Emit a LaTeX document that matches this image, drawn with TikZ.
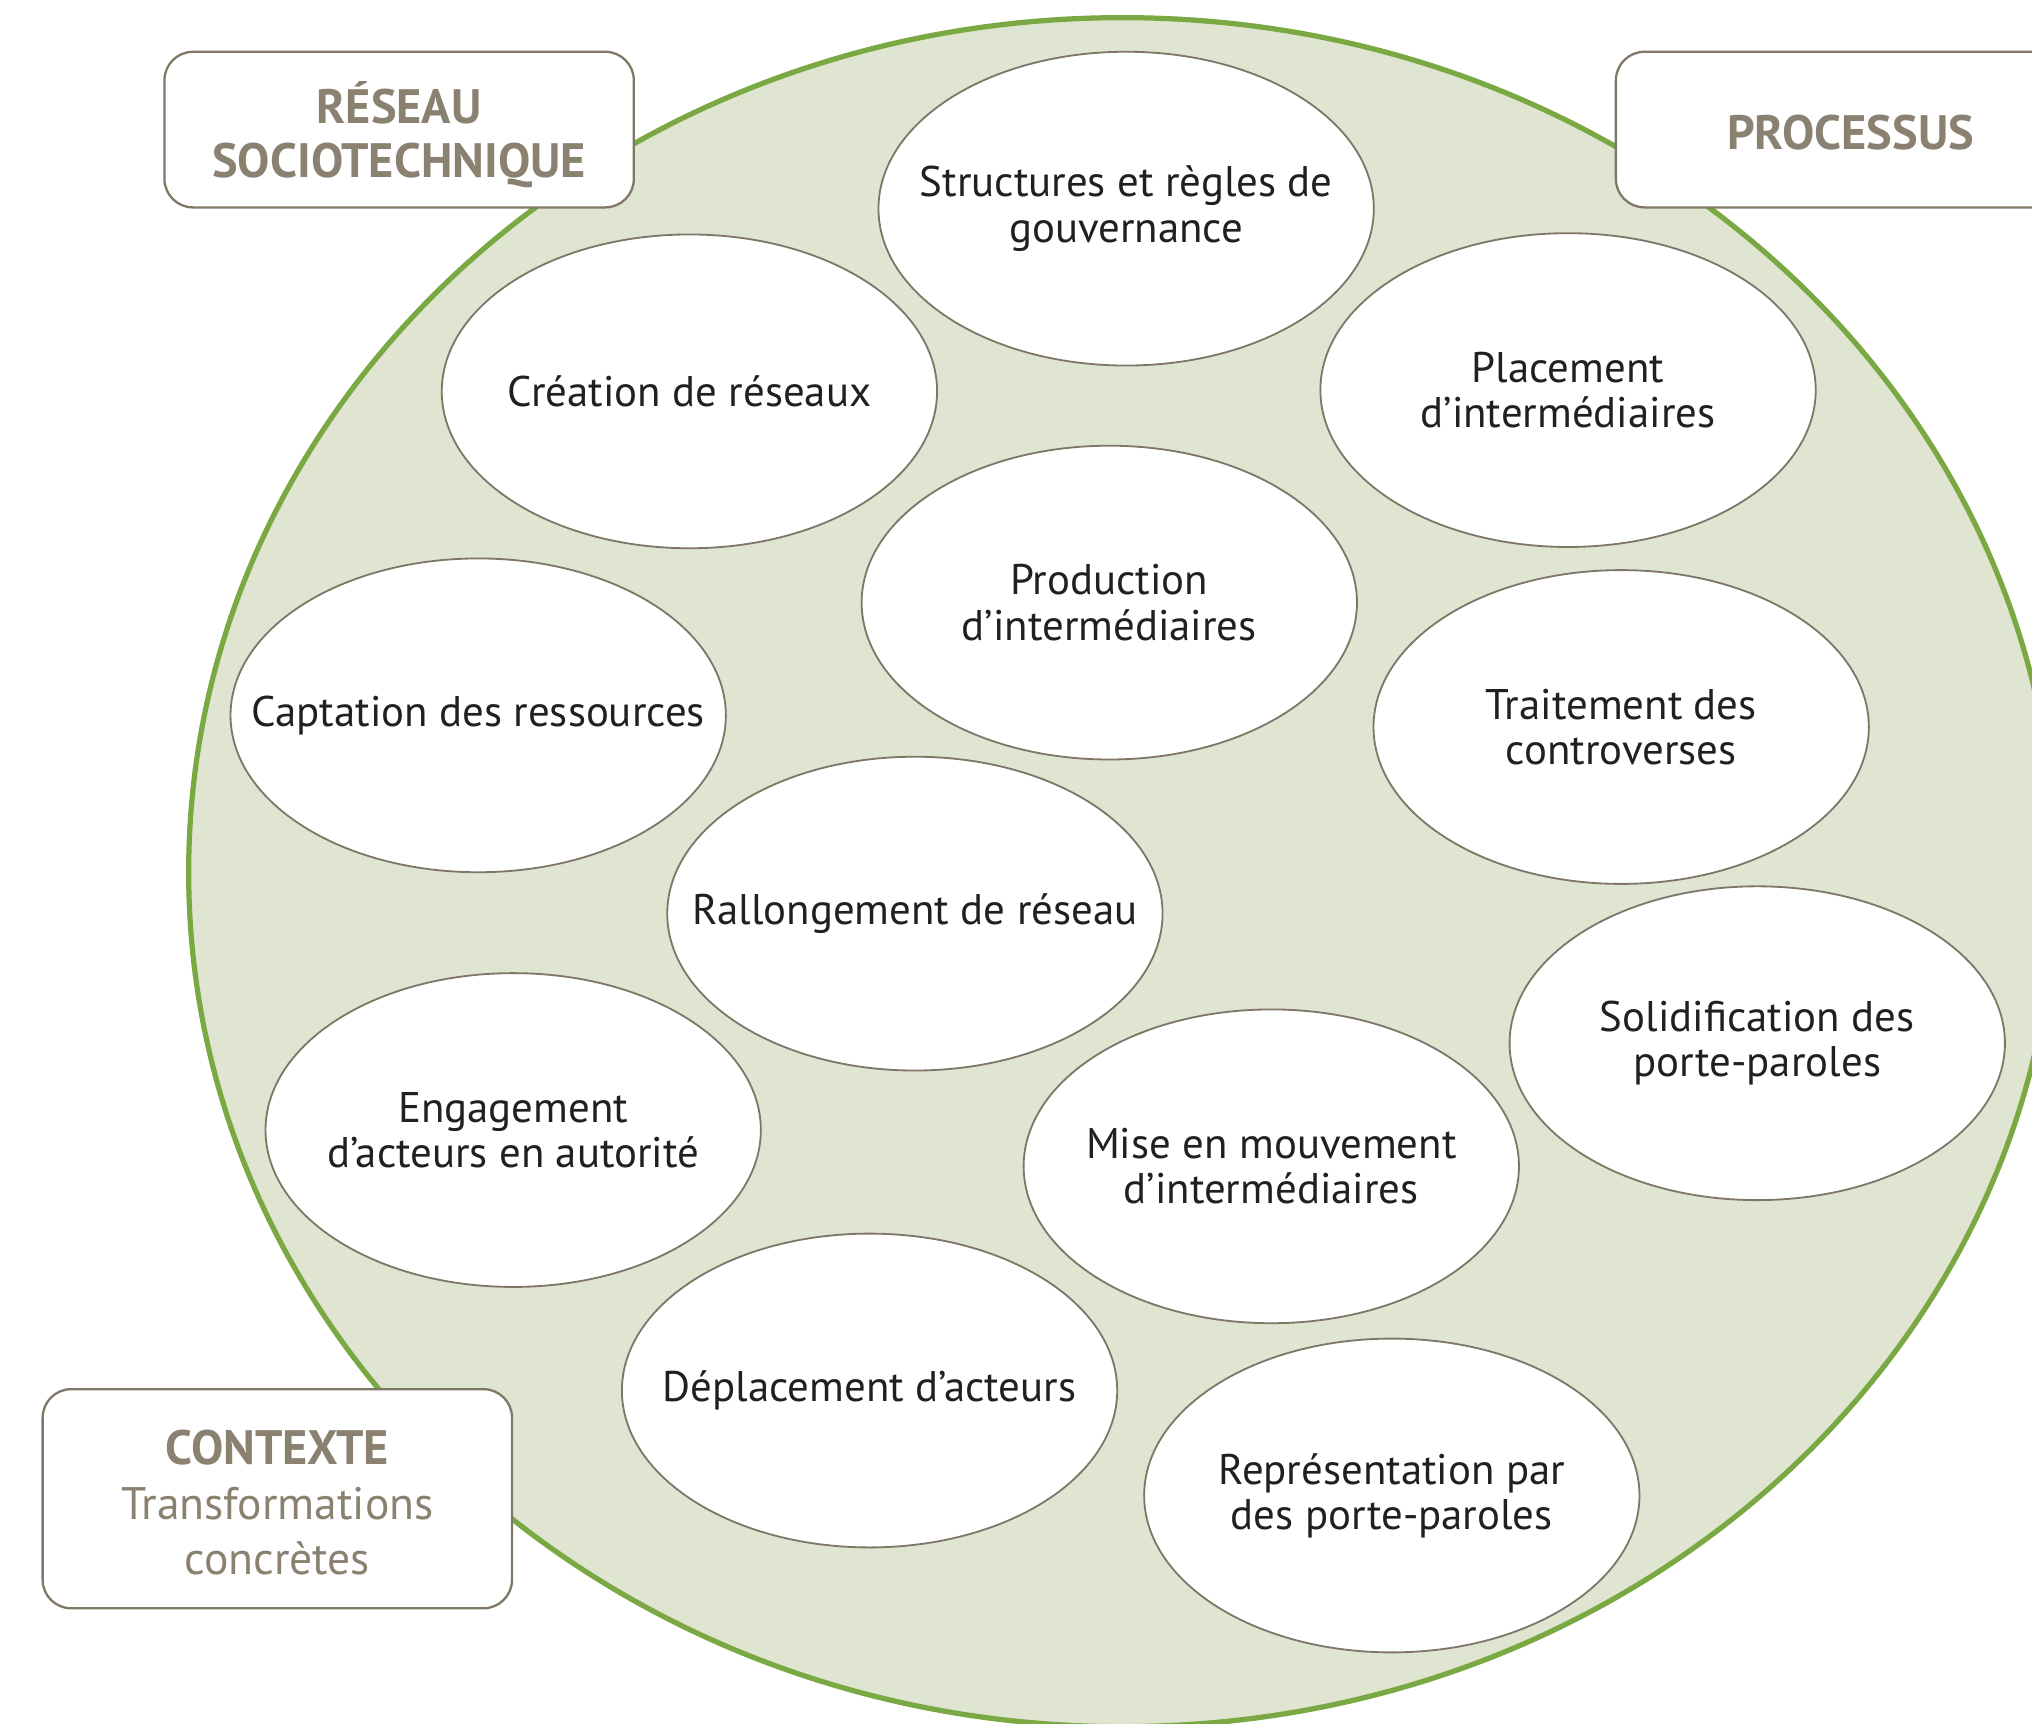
\documentclass[tikz,border=0pt]{standalone}
\usepackage{fontspec}
\setmainfont{PT Sans}
\usetikzlibrary{shapes.geometric}
\definecolor{ringgreen}{RGB}{122,168,66}
\definecolor{ringfill}{RGB}{224,229,209}
\definecolor{taupe}{RGB}{138,129,112}
\definecolor{taupeline}{RGB}{128,119,102}
\definecolor{ovalline}{RGB}{128,118,104}
\definecolor{inktext}{RGB}{35,31,32}
\tikzset{
  oval/.style={ellipse, draw=ovalline, line width=0.4pt, fill=white,
    minimum width=3.82cm, minimum height=2.42cm, inner xsep=-1.2cm, inner ysep=-0.6cm,
    align=center, text=inktext, font=\fontsize{9.4}{9.9}\selectfont},
  tag/.style={draw=taupeline, line width=0.5pt, fill=white, rounded corners=0.22cm,
    minimum width=3.62cm, inner sep=0pt, align=center, text=taupe,
    font=\fontsize{10.6}{12}\selectfont}
}
\begin{document}
\begin{tikzpicture}[x=0.01cm,y=-0.01cm]
\useasboundingbox (0,0) rectangle (1568,1330);
\clip (0,0) rectangle (1568,1330);
\fill[white] (0,0) rectangle (1568,1330);
\node[ellipse, draw=ringgreen, line width=1.15pt, fill=ringfill,
  minimum width=14.40cm, minimum height=13.18cm, inner sep=0pt] (ring) at (866,673) {};
\node[oval] (structures) at (869,161) {Structures et règles de\\gouvernance};
\node[oval] (creation) at (532,302) {Création de réseaux};
\node[oval] (placement) at (1210,301) {Placement\\d’intermédiaires};
\node[oval] (production) at (856,465) {Production\\d’intermédiaires};
\node[oval] (captation) at (369,552) {Captation des ressources};
\node[oval] (traitement) at (1251,561) {Traitement des\\controverses};
\node[oval] (rallongement) at (706,705) {Rallongement de réseau};
\node[oval] (solidification) at (1356,805) {Solidification des\\porte-paroles};
\node[oval] (engagement) at (396,872) {Engagement\\d’acteurs en autorité};
\node[oval] (mise) at (981,900) {Mise en mouvement\\d’intermédiaires};
\node[oval] (deplacement) at (671,1073) {Déplacement d’acteurs};
\node[oval] (representation) at (1074,1154) {Représentation par\\des porte-paroles};
\node[tag, minimum height=1.20cm] (reseau) at (308,100) {};
\node[text=taupe, align=center, font=\fontsize{10.6}{12}\selectfont\bfseries] (reseautext) at (308,104) {RÉSEAU\\SOCIOTECHNIQUE};
\node[tag, minimum height=1.20cm] (processus) at (1428,100) {};
\node[text=taupe, font=\fontsize{10.6}{12}\selectfont\bfseries] (processustext) at (1428,102) {PROCESSUS};
\node[tag, minimum height=1.69cm] (contexte) at (214,1156.5) {};
\node[text=taupe, align=center, font=\fontsize{10}{12}\selectfont] (contextetext) at (214,1159.5) {{\fontsize{10.6}{12}\selectfont\bfseries CONTEXTE}\\Transformations\\concrètes};
\end{tikzpicture}
\end{document}
